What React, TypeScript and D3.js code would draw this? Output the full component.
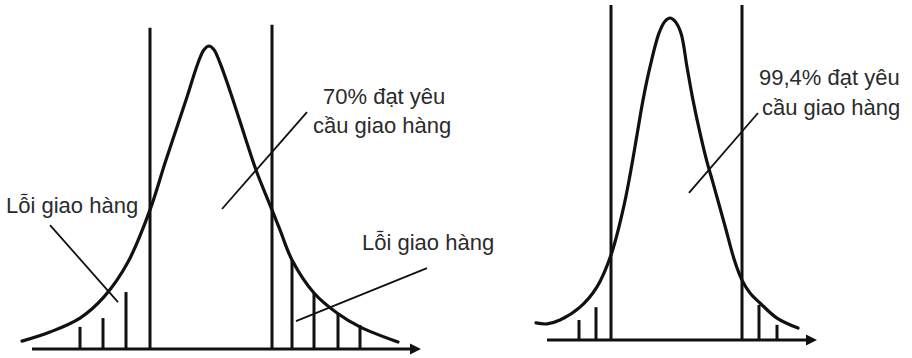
import React from "react";
import * as d3 from "d3";

// Delivery-time distributions: position (units from the mean) and relative frequency (peak = 100)
const beforeCurveX = [-47, -40, -32.5, -26.5, -20.5, -15, -11.25, -8.5, -5.75, -3, -1.5, -0.25, 1, 2.5, 5.5, 8.75, 11.5, 15.5, 17.5, 20.5, 26, 31.75, 37.5, 47];
const beforeCurveY = [2.6, 5.6, 10.2, 17.2, 28.7, 45.9, 61.4, 72.3, 83.2, 94.4, 98.8, 100, 98.8, 94.4, 83.2, 70, 59.1, 45.9, 39.3, 29.4, 18.5, 11.9, 7.3, 2.3];

const afterCurveX = [-33.5, -30.75, -27.5, -22.5, -18.25, -14.75, -11.75, -10, -8.25, -6.75, -5, -2.75, -1.25, 0, 1.25, 2.75, 4.25, 5.75, 7.5, 9.25, 10.75, 13.75, 16.25, 18, 20, 22.5, 26.75, 32];
const afterCurveY = [5.3, 5.0, 6.2, 10.2, 16.5, 26.4, 40.4, 51.2, 63.7, 74.5, 84.8, 95.3, 99, 100, 99, 95.3, 84.8, 74.5, 64.3, 55.3, 48.8, 35.4, 24.2, 18.6, 14.6, 11.5, 6.8, 3.7];

// Delivery window limits
const beforeLimits = [-15, 15.5];
const beforeLimitTops = [106, 107];
const afterLimits = [-14.75, 18];
const afterLimitTops = [104, 104];

// Late / early deliveries outside the window
const beforeDefectX = [-32.5, -26.75, -21, 20.5, 26, 32, 37.5];
const beforeDefectY = [7.3, 10.2, 18.8, 29.4, 18.5, 11.9, 7.9];
const afterDefectX = [-22.75, -18.5, 22.25, 26.75];
const afterDefectY = [6.2, 10.2, 10.9, 4.7];

// Axis extents (x units)
const beforeAxis = [-44.5, 52.75];
const afterAxis = [-30.75, 36.75];

// Labels
const beforeShareLabel = ["70% đạt yêu", "cầu giao hàng"];
const afterShareLabel = ["99,4% đạt yêu", "cầu giao hàng"];
const defectLabel = "Lỗi giao hàng";

const INK = "#111";
const TEXT = "#2b2b2b";
const FONT = "'Liberation Sans', Arial, Helvetica, sans-serif";

type Pt = [number, number];

function Panel(props: {
  x: d3.ScaleLinear<number, number>;
  y: d3.ScaleLinear<number, number>;
  curveX: number[];
  curveY: number[];
  limits: number[];
  limitTops: number[];
  defectX: number[];
  defectY: number[];
  axis: number[];
  leaders: [Pt, Pt][];
}) {
  const { x, y, curveX, curveY, limits, limitTops, defectX, defectY, axis, leaders } = props;
  const pts: Pt[] = curveX.map((v, i) => [v, curveY[i]]);
  const line = d3
    .line<Pt>()
    .x((d) => x(d[0]))
    .y((d) => y(d[1]))
    .curve(d3.curveCatmullRom.alpha(0.5));
  const y0 = y(0);
  const tipX = x(axis[1]);
  return (
    <g>
      {defectX.map((v, i) => (
        <line key={"b" + i} x1={x(v)} x2={x(v)} y1={y0} y2={y(defectY[i])} stroke={INK} strokeWidth={3} />
      ))}
      {limits.map((v, i) => (
        <line key={"l" + i} x1={x(v)} x2={x(v)} y1={y0} y2={y(limitTops[i])} stroke={INK} strokeWidth={3} />
      ))}
      <path d={line(pts) || ""} fill="none" stroke={INK} strokeWidth={3.2} strokeLinecap="round" strokeLinejoin="round" />
      <line x1={x(axis[0])} x2={tipX - 6} y1={y0} y2={y0} stroke={INK} strokeWidth={3} />
      <path d={`M${tipX},${y0} L${tipX - 11},${y0 - 5.5} L${tipX - 11},${y0 + 5.5} Z`} fill={INK} />
      {leaders.map((l, i) => (
        <line key={"d" + i} x1={x(l[0][0])} y1={y(l[0][1])} x2={x(l[1][0])} y2={y(l[1][1])} stroke={INK} strokeWidth={1.8} />
      ))}
    </g>
  );
}

export default function App() {
  const xBefore = d3.scaleLinear().domain([0, 1]).range([210, 214]);
  const yBefore = d3.scaleLinear().domain([0, 100]).range([349, 46]);
  const xAfter = d3.scaleLinear().domain([0, 1]).range([670, 674]);
  const yAfter = d3.scaleLinear().domain([0, 100]).range([340, 18]);

  const beforeLeaders: [Pt, Pt][] = [
    [[3, 46.2], [24.25, 78.2]],
    [[-40, 40.9], [-23, 15.5]],
    [[21.5, 9.2], [54.25, 26.7]],
  ];
  const afterLeaders: [Pt, Pt][] = [[[4.75, 45.7], [22, 70.5]]];

  const textStyle = { fontFamily: FONT, fontSize: 22, fill: TEXT } as const;

  return (
    <svg width={912} height={358} style={{ position: "absolute", left: 0, top: 0, background: "#fff" }}>
      <rect width={912} height={358} fill="#fff" />
      <Panel
        x={xBefore}
        y={yBefore}
        curveX={beforeCurveX}
        curveY={beforeCurveY}
        limits={beforeLimits}
        limitTops={beforeLimitTops}
        defectX={beforeDefectX}
        defectY={beforeDefectY}
        axis={beforeAxis}
        leaders={beforeLeaders}
      />
      <Panel
        x={xAfter}
        y={yAfter}
        curveX={afterCurveX}
        curveY={afterCurveY}
        limits={afterLimits}
        limitTops={afterLimitTops}
        defectX={afterDefectX}
        defectY={afterDefectY}
        axis={afterAxis}
        leaders={afterLeaders}
      />
      <text x={323} y={104} style={textStyle}>{beforeShareLabel[0]}</text>
      <text x={313} y={133} style={textStyle}>{beforeShareLabel[1]}</text>
      <text x={6} y={213} style={textStyle}>{defectLabel}</text>
      <text x={362} y={250} style={textStyle}>{defectLabel}</text>
      <text x={759} y={85} style={textStyle}>{afterShareLabel[0]}</text>
      <text x={762} y={115} style={textStyle}>{afterShareLabel[1]}</text>
    </svg>
  );
}
